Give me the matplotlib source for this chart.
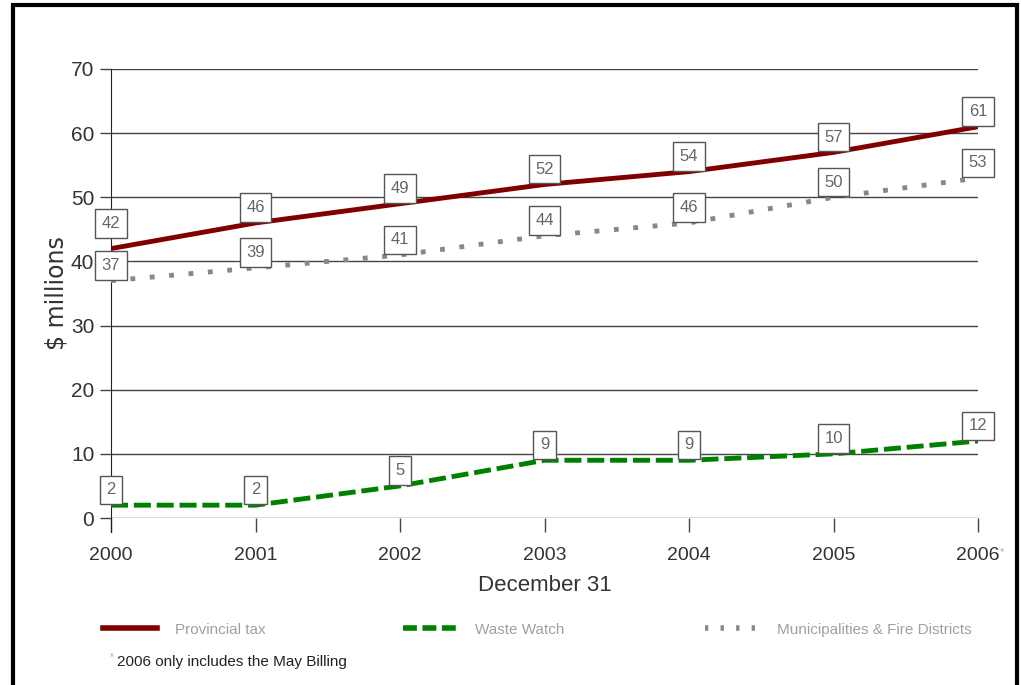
import matplotlib.pyplot as plt
from matplotlib.lines import Line2D
from matplotlib.patches import Rectangle

years = [2000, 2001, 2002, 2003, 2004, 2005, 2006]
year_labels = ['2000', '2001', '2002', '2003', '2004', '2005', '2006']
provincial = [42, 46, 49, 52, 54, 57, 61]
municipal = [37, 39, 41, 44, 46, 50, 53]
waste = [2, 2, 5, 9, 9, 10, 12]

plt.rcParams['font.family'] = ['Liberation Sans', 'DejaVu Sans']

fig = plt.figure(figsize=(10.21, 6.85), dpi=100)
ax = fig.add_axes([111 / 1021, 1 - 518 / 685, 867 / 1021, 449 / 685])

# gridlines
for y in range(0, 71, 10):
    ax.axhline(y, color='#444444', linewidth=1.0, zorder=1)

ax.plot(years, provincial, color='#800000', linewidth=3.5, solid_capstyle='butt', zorder=3)
ax.plot(years, municipal, color='#888888', linewidth=3.5, linestyle=(0, (1, 3)), zorder=3)
ax.plot(years, waste, color='#008000', linewidth=3.5, linestyle=(0, (3.5, 1.2)), zorder=3)

# boxed value labels, box bottom sitting on the point
for series in (provincial, municipal, waste):
    for x, v in zip(years, series):
        dy = 11
        if series is provincial and x == 2000:
            dy = 18
        ax.annotate(str(v), (x, v), xytext=(0, dy), textcoords='offset points',
                    ha='center', va='center', fontsize=12, color='#666666',
                    bbox=dict(boxstyle='square,pad=0.4', fc='white', ec='#555555', lw=1),
                    zorder=5)

ax.set_xlim(2000, 2006)
ax.set_ylim(0, 70)
ax.set_yticks(range(0, 71, 10))
ax.set_xticks(years)
ax.set_xticklabels(year_labels)
ax.tick_params(axis='y', length=8, width=1, color='#444444', labelsize=15,
               labelcolor='#333333', pad=4)
ax.tick_params(axis='x', length=10, width=1, color='#444444', labelsize=14,
               labelcolor='#333333', pad=11)
for s in ('top', 'right', 'bottom'):
    ax.spines[s].set_visible(False)
ax.spines['left'].set_bounds(-2.2, 70)
ax.spines['left'].set_color('#222222')
ax.set_xlabel('December 31', fontsize=16, color='#333333', labelpad=8)
ax.set_ylabel('$ millions', fontsize=17, color='#333333', labelpad=2,
              family=['DejaVu Sans'])
ax.text(2006.15, -5.3, '*', fontsize=8, color='#aaaaaa', va='center')

# legend
def leg(x0, color, ls, label):
    fig.add_artist(Line2D([x0 / 1021, (x0 + 54) / 1021], [1 - 628 / 685] * 2,
                          color=color, linewidth=4, linestyle=ls))
    fig.text((x0 + 72) / 1021, 1 - 630 / 685, label, fontsize=11, color='#a0a0a0',
             va='center', ha='left')

leg(103, '#800000', '-', 'Provincial tax')
leg(403, '#008000', (0, (2.5, 1)), 'Waste Watch')
leg(705, '#888888', (0, (0.6, 2.2)), 'Municipalities & Fire Districts')

fig.text(117 / 1021, 1 - 662 / 685, '2006 only includes the May Billing', fontsize=11,
         color='#222222', va='center', ha='left')
fig.text(110 / 1021, 1 - 657 / 685, '*', fontsize=7, color='#aaaaaa', va='center')

# outer frame
fig.add_artist(Rectangle((13 / 1021, -0.01), (1017 - 13) / 1021, 1 - 5 / 685 + 0.01,
                         transform=fig.transFigure, fill=False, ec='black', lw=3))

fig.savefig('out.png', dpi=100)
